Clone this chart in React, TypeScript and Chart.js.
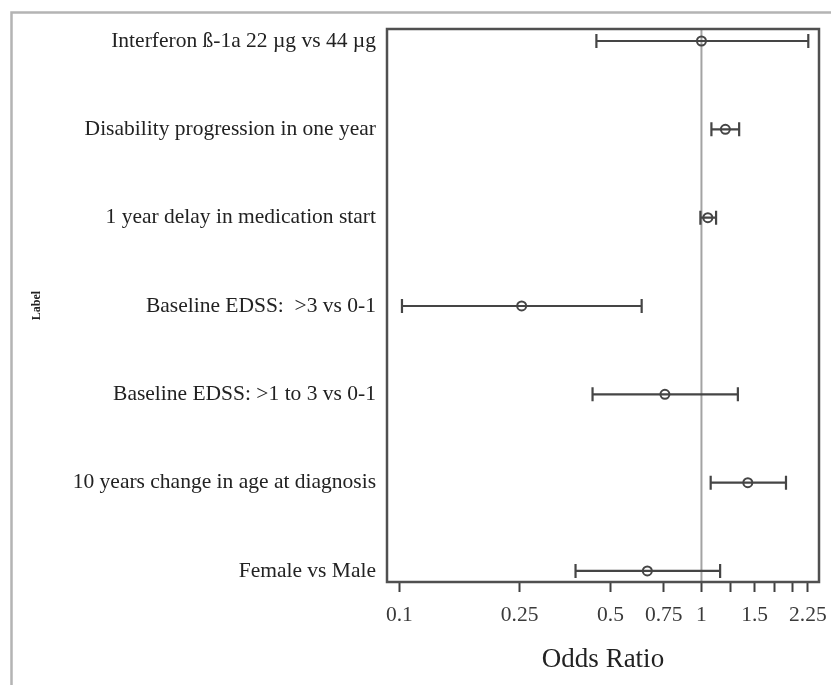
import React, { useEffect, useRef } from "react";
import { Chart, registerables } from "chart.js";

Chart.register(...registerables);

const categories: string[] = [
  "Interferon ß-1a 22 µg vs 44 µg",
  "Disability progression in one year",
  "1 year delay in medication start",
  "Baseline EDSS:  >3 vs 0-1",
  "Baseline EDSS: >1 to 3 vs 0-1",
  "10 years change in age at diagnosis",
  "Female vs Male",
];
const oddsRatio: number[] = [1.0, 1.2, 1.05, 0.254, 0.757, 1.424, 0.662];
const lowerCI: number[] = [0.449, 1.079, 0.992, 0.102, 0.436, 1.073, 0.383];
const upperCI: number[] = [2.258, 1.333, 1.118, 0.634, 1.32, 1.905, 1.153];
const xTickValues: number[] = [0.1, 0.25, 0.5, 0.75, 1, 1.25, 1.5, 1.75, 2, 2.25];
const xTickLabels: number[] = [0.1, 0.25, 0.5, 0.75, 1, 1.5, 2.25];
const referenceValue = 1;

const SERIF = "'Liberation Serif', 'Times New Roman', serif";

const forestPlugin = {
  id: "forest",
  beforeDraw(chart: any) {
    const { ctx } = chart;
    ctx.save();
    ctx.fillStyle = "#ffffff";
    ctx.fillRect(0, 0, chart.width, chart.height);
    ctx.strokeStyle = "#b4b4b4";
    ctx.lineWidth = 2.5;
    ctx.beginPath();
    ctx.moveTo(11.5, chart.height);
    ctx.lineTo(11.5, 12.5);
    ctx.lineTo(chart.width, 12.5);
    ctx.stroke();
    ctx.restore();
  },
  beforeDatasetsDraw(chart: any) {
    const { ctx, chartArea, scales } = chart;
    const x = scales.x;
    const y = scales.y;
    ctx.save();
    // reference line
    const rx = x.getPixelForValue(referenceValue);
    ctx.strokeStyle = "#a3a3a3";
    ctx.lineWidth = 2;
    ctx.beginPath();
    ctx.moveTo(rx, chartArea.top);
    ctx.lineTo(rx, chartArea.bottom);
    ctx.stroke();
    // error bars
    ctx.strokeStyle = "#454545";
    ctx.lineWidth = 2.2;
    const cap = 7;
    for (let i = 0; i < categories.length; i++) {
      const py = y.getPixelForValue(i);
      const lx = x.getPixelForValue(lowerCI[i]);
      const hx = x.getPixelForValue(upperCI[i]);
      ctx.beginPath();
      ctx.moveTo(lx, py);
      ctx.lineTo(hx, py);
      ctx.moveTo(lx, py - cap);
      ctx.lineTo(lx, py + cap);
      ctx.moveTo(hx, py - cap);
      ctx.lineTo(hx, py + cap);
      ctx.stroke();
    }
    ctx.restore();
  },
  afterDraw(chart: any) {
    const { ctx, chartArea } = chart;
    ctx.save();
    ctx.strokeStyle = "#505050";
    ctx.lineWidth = 2.5;
    ctx.strokeRect(
      chartArea.left,
      chartArea.top,
      chartArea.right - chartArea.left,
      chartArea.bottom - chartArea.top
    );
    ctx.restore();
  },
};

export default function App() {
  const canvasRef = useRef<HTMLCanvasElement | null>(null);

  useEffect(() => {
    document.body.style.margin = "0";
    const canvas = canvasRef.current;
    if (!canvas) return;
    const chart = new Chart(canvas, {
      type: "scatter",
      data: {
        datasets: [
          {
            data: oddsRatio.map((v, i) => ({ x: v, y: i })),
            pointRadius: 4.5,
            pointBorderWidth: 2,
            pointBorderColor: "#454545",
            pointBackgroundColor: "rgba(0,0,0,0)",
            pointHoverRadius: 4.5,
          },
        ],
      },
      options: {
        animation: false,
        responsive: false,
        maintainAspectRatio: false,
        events: [],
        layout: { padding: { left: 0, top: 29, right: 12, bottom: 0 } },
        plugins: {
          legend: { display: false },
          tooltip: { enabled: false },
        },
        scales: {
          x: {
            type: "logarithmic",
            min: 0.091,
            max: 2.45,
            afterBuildTicks: (scale: any) => {
              scale.ticks = xTickValues.map((v) => ({ value: v }));
            },
            afterFit: (scale: any) => {
              scale.height = 103;
              scale.paddingLeft = 0;
              scale.paddingRight = 0;
            },
            border: { display: false },
            grid: {
              display: true,
              drawOnChartArea: false,
              drawTicks: true,
              tickLength: 10,
              tickColor: "#404040",
              tickWidth: 2,
            },
            ticks: {
              autoSkip: false,
              maxRotation: 0,
              minRotation: 0,
              padding: 10,
              color: "#3a3a3a",
              font: { family: SERIF, size: 21.5 },
              callback: (value: any) =>
                xTickLabels.includes(Number(value)) ? String(value) : "",
            },
            title: {
              display: true,
              text: "Odds Ratio",
              color: "#222222",
              font: { family: SERIF, size: 27 },
              padding: { top: 0, bottom: 9 },
            },
          },
          y: {
            type: "linear",
            min: -0.136,
            max: 6.125,
            reverse: true,
            afterBuildTicks: (scale: any) => {
              scale.ticks = categories.map((_, i) => ({ value: i }));
            },
            afterFit: (scale: any) => {
              scale.width = 387;
              scale.paddingTop = 0;
              scale.paddingBottom = 0;
            },
            border: { display: false },
            grid: { display: false, drawTicks: false },
            ticks: {
              autoSkip: false,
              padding: 11,
              color: "#222222",
              font: { family: SERIF, size: 21.5 },
              callback: (value: any) => categories[Number(value)] ?? "",
            },
            title: {
              display: true,
              text: "Label",
              color: "#222222",
              font: { family: SERIF, size: 12, weight: "bold" },
              padding: { top: 30, bottom: 0 },
            },
          },
        },
      },
      plugins: [forestPlugin],
    } as any);
    return () => chart.destroy();
  }, []);

  return (
    <div style={{ width: 831, height: 685 }}>
      <canvas ref={canvasRef} width={831} height={685} style={{ display: "block" }} />
    </div>
  );
}
